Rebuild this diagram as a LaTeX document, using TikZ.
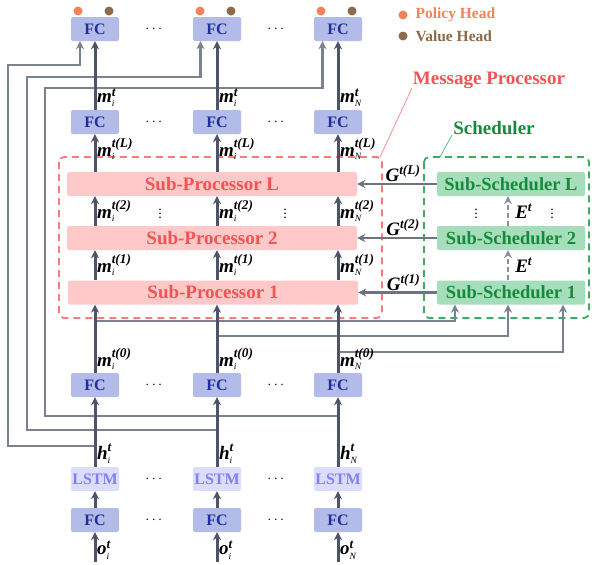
\documentclass[tikz,border=0pt]{standalone}
\usepackage{amsmath}
\usepackage{fontspec}
\setmainfont{Liberation Serif}
\usepackage{xcolor}
\usepackage{tikz}
\usetikzlibrary{arrows.meta}
\definecolor{cfc}{HTML}{B3BCE9}
\definecolor{cfctxt}{HTML}{1F2F9E}
\definecolor{clstm}{HTML}{DCDCFF}
\definecolor{clstmtxt}{HTML}{8080F0}
\definecolor{csp}{HTML}{FFC9C9}
\definecolor{csptxt}{HTML}{F25454}
\definecolor{css}{HTML}{A6DDBB}
\definecolor{csstxt}{HTML}{168A3C}
\definecolor{cmain}{HTML}{4D5468}
\definecolor{cskip}{HTML}{7C8190}
\definecolor{cgarr}{HTML}{6E7382}
\definecolor{cearr}{HTML}{8A8F9C}
\definecolor{credbox}{HTML}{F47C7C}
\definecolor{cgreenbox}{HTML}{3DAA63}
\definecolor{cpol}{HTML}{F08358}
\definecolor{cval}{HTML}{8C6A4A}
\tikzset{>={Stealth[length=8pt,width=8pt]},
  fcbox/.style={fill=cfc,rounded corners=2pt,minimum width=48pt,minimum height=24pt,inner sep=0pt,text=cfctxt,font=\fontsize{16}{16}\selectfont\bfseries},
  lstmbox/.style={fcbox,fill=clstm,text=clstmtxt},
  spbox/.style={fill=csp,rounded corners=2pt,minimum width=290pt,minimum height=24pt,inner sep=0pt,text=csptxt,font=\fontsize{19}{19}\selectfont\bfseries},
  ssbox/.style={spbox,fill=css,minimum width=148pt,text=csstxt,font=\fontsize{18.5}{18.5}\selectfont\bfseries},
  main/.style={draw=cmain,line width=3pt,->},
  skip/.style={draw=cskip,line width=2.8pt,->},
  lbl/.style={font=\fontsize{19}{19}\selectfont,inner sep=0.5pt},
  dotsn/.style={font=\fontsize{14}{14}\selectfont,inner sep=0pt}}
\newcommand{\vb}[1]{\textbf{\textit{#1}}}
\newcommand{\vlab}[3]{$\vb{#1}_{\scriptscriptstyle\textit{#2}}^{\vb{#3}}$}

\begin{document}
\begin{tikzpicture}[x=1pt,y=-1pt]
\useasboundingbox (0,0) rectangle (592,565);

% ===== frames =====
\draw[credbox,line width=1.8pt,dash pattern=on 7pt off 5pt,rounded corners=5pt] (59,157) rectangle (382,318);
\draw[cgreenbox,line width=1.8pt,dash pattern=on 7pt off 5pt,rounded corners=5pt] (424,157) rectangle (589,318);

% ===== shared blocks =====
\node[spbox] (sp1) at (213,292.5) {Sub-Processor 1};
\node[spbox] (sp2) at (212,238) {Sub-Processor 2};
\node[spbox] (spL) at (212,184) {Sub-Processor L};
\node[ssbox] (ss1) at (511,292.5) {Sub-Scheduler 1};
\node[ssbox] (ss2) at (511,238) {Sub-Scheduler 2};
\node[ssbox] (ssL) at (511,184) {Sub-Scheduler L};

% ===== agent columns =====
\foreach \c/\x/\s in {1/95/i,2/217/i,3/338/N}{
  \node[fcbox] (fcO\c) at (\x,520) {FC};
  \node[lstmbox] (lstm\c) at (\x,479) {LSTM};
  \node[fcbox] (fcM\c) at (\x,385) {FC};
  \node[fcbox] (fcT\c) at (\x,122) {FC};
  \node[fcbox] (fcH\c) at (\x,29) {FC};
  \fill[cpol] (\x-17,11) circle (4.5pt);
  \fill[cval] (\x+14,11) circle (4.5pt);
  \coordinate (o\c) at (\x,562);
}

% skip connections h -> head FC
\draw[skip] (lstm1.north |- 0,446) -| (8,65) -| ([xshift=-15pt]fcH1.south);
\draw[skip] (lstm2.north |- 0,430) -| (27,77) -| ([xshift=-16.5pt]fcH2.south);
\draw[skip] (lstm3.north |- 0,416) -| (45,88) -| ([xshift=-15.5pt]fcH3.south);

% m^{t(0)} -> scheduler
\draw[skip] (fcM1.north |- 0,321) -| ([xshift=-56pt]ss1.south);
\draw[skip] (fcM2.north |- 0,336) -| ([xshift=-3pt]ss1.south);
\draw[skip] (fcM3.north |- 0,352) -| ([xshift=52pt]ss1.south);

\foreach \c/\x/\s in {1/95/i,2/217/i,3/338/N}{
  \draw[main] (o\c) -- (fcO\c) node[lbl,pos=0.4,anchor=west]{\vlab{o}{\s}{t}};
  \draw[main] (fcO\c) -- (lstm\c);
  \draw[main] (lstm\c) -- (fcM\c) node[lbl,pos=0,anchor=south west,yshift=1pt]{\vlab{h}{\s}{t}};
  \draw[main] (fcM\c) -- (fcM\c.north |- sp1.south) node[lbl,pos=0,anchor=south west,yshift=1pt]{\vlab{m}{\s}{t(0)}};
  \draw[main] (sp1.north -| fcM\c) -- (sp2.south -| fcM\c) node[lbl,midway,anchor=west]{\vlab{m}{\s}{t(1)}};
  \draw[main] (sp2.north -| fcM\c) -- (spL.south -| fcM\c) node[lbl,midway,anchor=west]{\vlab{m}{\s}{t(2)}};
  \draw[main] (spL.north -| fcM\c) -- (fcT\c) node[lbl,pos=0.6,anchor=west]{\vlab{m}{\s}{t(L)}};
  \draw[main] (fcT\c) -- (fcH\c) node[lbl,pos=0,anchor=south west,yshift=1pt]{\vlab{m}{\s}{t}};
}

% scheduler -> processor
\foreach \k in {1,2,L}{
  \draw[draw=cgarr,line width=2.8pt,->] (ss\k) -- (sp\k) node[lbl,midway,anchor=south,xshift=6pt]{$\vb{G}^{\vb{t(\k)}}$};
}
\draw[draw=cearr,line width=1.6pt,dash pattern=on 5pt off 3pt,->] ([xshift=-3pt]ss1.north) -- ([xshift=-3pt]ss2.south) node[lbl,midway,anchor=west,xshift=6pt]{$\vb{E}^{\vb{t}}$};
\draw[draw=cearr,line width=1.6pt,dash pattern=on 5pt off 3pt,->] ([xshift=-3pt]ss2.north) -- ([xshift=-3pt]ssL.south) node[lbl,midway,anchor=west,xshift=6pt]{$\vb{E}^{\vb{t}}$};

% dots
\foreach \y in {29,122,385,479,520}{
  \node[dotsn] (hda\y) at (155,\y) {$\cdots$};
  \node[dotsn] (hdb\y) at (277,\y) {$\cdots$};
}
\node[dotsn] (vd1) at (160,211) {$\vdots$};
\node[dotsn] (vd2) at (285,211) {$\vdots$};
\node[dotsn] (vd3) at (476,211) {$\vdots$};
\node[dotsn] (vd4) at (552,211) {$\vdots$};

% titles
\node[csptxt,font=\fontsize{19}{19}\selectfont\bfseries] (mptitle) at (489,80) {Message Processor};
\draw[csptxt!80,line width=0.6pt] (380,157) -- (412,88);
\node[csstxt,font=\fontsize{19}{19}\selectfont\bfseries] (sctitle) at (494,128) {Scheduler};
\draw[cgreenbox,line width=0.6pt] (440,157) -- (452,135);

% legend
\fill[cpol] (403,15) circle (4.5pt);
\node[cpol,anchor=west,font=\fontsize{15.5}{15.5}\selectfont\bfseries] (legpol) at (412,15) {Policy Head};
\fill[cval] (403,36) circle (4.5pt);
\node[cval,anchor=west,font=\fontsize{15.5}{15.5}\selectfont\bfseries] (legval) at (412,36) {Value Head};

\end{tikzpicture}
\end{document}
